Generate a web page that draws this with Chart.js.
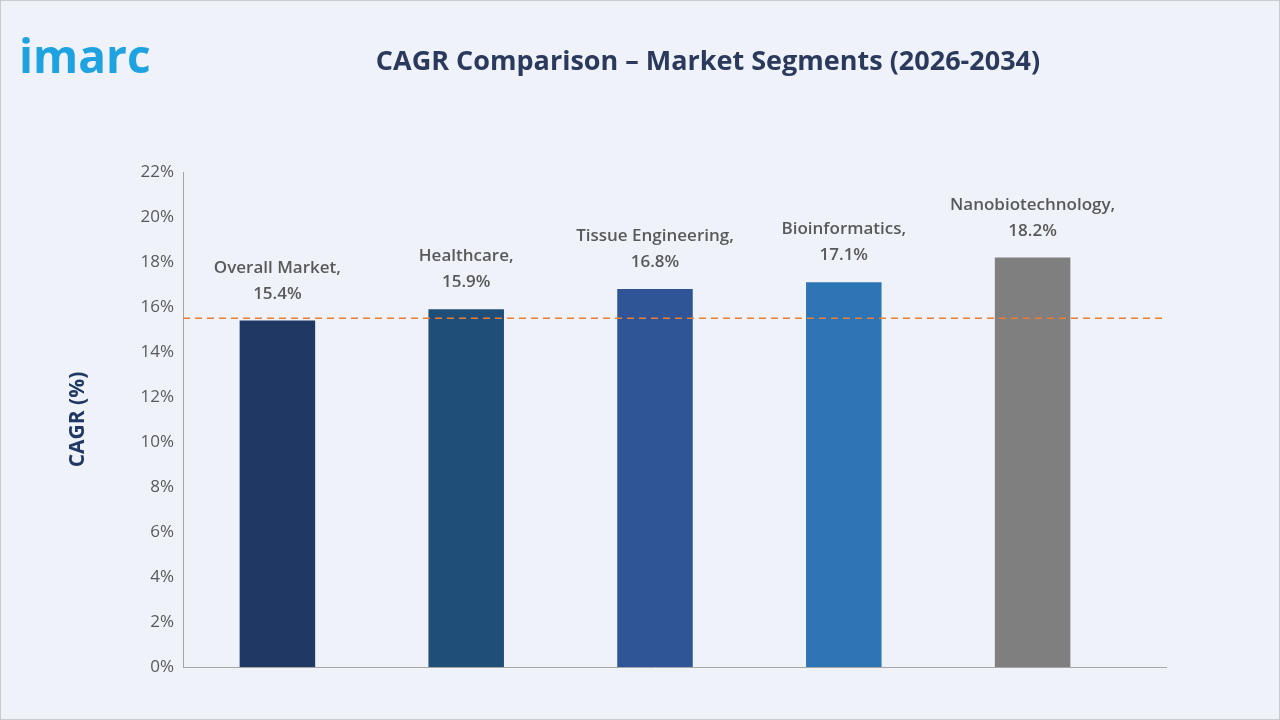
<!DOCTYPE html>
<html>
<head>
<meta charset="utf-8">
<script src="https://cdn.jsdelivr.net/npm/chart.js@4"></script>
<style>
  html, body { margin: 0; padding: 0; background: #fff; }
  #wrap { position: relative; width: 1278px; height: 718px; border: 1px solid #c9ccd1; background: #eff3f9; }
</style>
</head>
<body>
<div id="wrap"><canvas id="cagr" width="1278" height="718"></canvas></div>
<script>
'use strict'
var segments = ['Overall Market', 'Healthcare', 'Tissue Engineering', 'Bioinformatics', 'Nanobiotechnology'];
var cagrValues = [15.4, 15.9, 16.8, 17.1, 18.2];
var barColors = ['#1f3864', '#1f4e79', '#2f5597', '#2e75b6', '#7f7f7f'];
var referenceLine = 15.5;
var yTicks = [0, 2, 4, 6, 8, 10, 12, 14, 16, 18, 20, 22];
var axisRight = 1166;

/* title, logo, labels and dashed line */
var decor = {
    id: 'decor',
    afterDatasetsDraw: function (chart) {
        var ctx = chart.ctx, y = chart.scales.y, area = chart.chartArea;
        ctx.save();
        ctx.fillStyle = '#1fa2e0';
        ctx.font = 'bold 46px "Open Sans", sans-serif';
        ctx.fillText('imarc', 18, 72);
        ctx.fillStyle = '#2b3a5c';
        ctx.font = 'bold 27px "Open Sans", sans-serif';
        ctx.textAlign = 'center';
        ctx.fillText('CAGR Comparison \u2013 Market Segments (2026-2034)', 707, 69);
        // extend bottom axis
        ctx.strokeStyle = '#a6a6a6';
        ctx.lineWidth = 1;
        ctx.beginPath();
        ctx.moveTo(area.right, area.bottom + 0.5);
        ctx.lineTo(axisRight, area.bottom + 0.5);
        ctx.stroke();
        // reference line
        ctx.strokeStyle = '#ed7d31';
        ctx.lineWidth = 1.6;
        ctx.setLineDash([7, 5]);
        ctx.beginPath();
        ctx.moveTo(area.left, y.getPixelForValue(referenceLine));
        ctx.lineTo(axisRight, y.getPixelForValue(referenceLine));
        ctx.stroke();
        ctx.setLineDash([]);
        // value labels
        ctx.fillStyle = '#595959';
        ctx.font = '600 17px "Open Sans", sans-serif';
        chart.getDatasetMeta(0).data.forEach(function (bar, i) {
            ctx.fillText(segments[i] + ',', bar.x, bar.y - 48);
            ctx.fillText(cagrValues[i].toFixed(1) + '%', bar.x, bar.y - 22);
        });
        ctx.restore();
    }
};

new Chart(document.getElementById('cagr').getContext('2d'), {
    type: 'bar',
    data: {
        labels: segments,
        datasets: [{
            data: cagrValues,
            backgroundColor: barColors,
            barPercentage: 0.4,
            categoryPercentage: 1
        }]
    },
    options: {
        responsive: false,
        animation: false,
        layout: { padding: { left: 60, right: 152, top: 171, bottom: 52 } },
        plugins: { legend: { display: false }, tooltip: { enabled: false } },
        scales: {
            x: {
                grid: { display: false, drawTicks: false },
                border: { color: '#a6a6a6' },
                ticks: { display: false },
                afterFit: function (s) { s.paddingLeft = 0; }
            },
            y: {
                min: 0, max: 22,
                afterFit: function (s) { s.width = 122; },
                afterBuildTicks: function (s) { s.ticks = yTicks.map(function (v) { return { value: v }; }); },
                grid: { display: false, drawTicks: true, tickLength: 6, tickColor: '#a6a6a6' },
                border: { color: '#a6a6a6' },
                ticks: {
                    color: '#595959',
                    font: { size: 17, family: '"Open Sans", sans-serif' },
                    callback: function (v) { return v + '%'; }
                },
                title: {
                    display: true, text: 'CAGR (%)', color: '#1f3864',
                    font: { size: 21, weight: 'bold', family: '"Open Sans", sans-serif' }
                }
            }
        }
    },
    plugins: [decor]
});
</script>
</body>
</html>
